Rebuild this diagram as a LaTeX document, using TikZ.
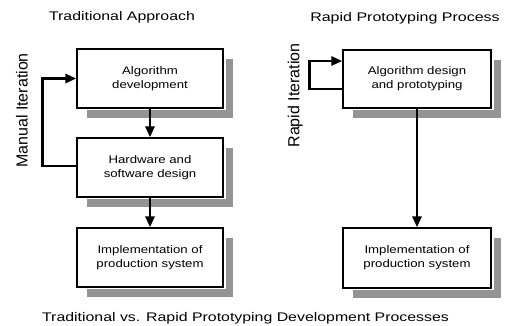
\documentclass[tikz,border=0pt]{standalone}
\usepackage{fontspec}
\setmainfont{Liberation Sans}
\usepackage{graphicx}
\usetikzlibrary{arrows.meta,calc}
\newcommand{\wid}[2]{\scalebox{#1}[1]{#2}}
\tikzset{
  procbox/.style={draw=black, line width=1.3pt, fill=white, minimum width=146pt, minimum height=59pt,
    inner sep=0pt, align=center, font=\fontsize{11}{14}\selectfont,
    preaction={draw=white, line width=5pt}},
  shadowfill/.style={fill=black!42},
  flow/.style={line width=2.8pt, -{Triangle[length=11pt,width=9pt]}},
  titletext/.style={font=\fontsize{12.5}{15}\selectfont, anchor=base, inner sep=0pt},
  sidetext/.style={font=\fontsize{16}{19}\selectfont, anchor=base, rotate=90, inner sep=0pt}
}
\begin{document}
\begin{tikzpicture}[x=1pt,y=-1pt]
\useasboundingbox (0,0) rectangle (507,326);
% shadows
\fill[shadowfill] (87,59) rectangle (233,118);
\fill[shadowfill] (87,148) rectangle (233,207);
\fill[shadowfill] (87,238) rectangle (233,297);
\fill[shadowfill] (353,60) rectangle (501,118);
\fill[shadowfill] (353,238) rectangle (501,298);
% boxes
\node[procbox] (lb1) at (150,78.5) {\wid{1.2}{Algorithm}\\\wid{1.2}{development}};
\node[procbox] (lb2) at (150,167.5) {\wid{1.2}{Hardware and}\\\wid{1.2}{software design}};
\node[procbox] (lb3) at (150,257.5) {\wid{1.2}{Implementation of}\\\wid{1.2}{production system}};
\node[procbox, minimum width=148pt, minimum height=58pt] (rb1) at (417,79) {\wid{1.2}{Algorithm design}\\\wid{1.2}{and prototyping}};
\node[procbox, minimum width=148pt, minimum height=60pt] (rb2) at (417,258) {\wid{1.2}{Implementation of}\\\wid{1.2}{production system}};
% connectors
\draw[flow] (lb1.south) -- (lb2.north);
\draw[flow] (lb2.south) -- (lb3.north);
\draw[flow] (rb1.south) -- (rb2.north);
\coordinate (ml1) at ($(lb2.west)+(-34,-1.5)$);
\coordinate (ml2) at ($(lb1.west)+(-34,0)$);
\draw[flow] ($(lb2.west)+(0,-1.5)$) -- (ml1) -- (ml2) -- (lb1.west);
\coordinate (rl1) at ($(rb1.west)+(-33,10)$);
\coordinate (rl2) at ($(rb1.west)+(-33,-18)$);
\draw[flow] ($(rb1.west)+(0,10)$) -- (rl1) -- (rl2) -- ($(rb1.west)+(0,-18)$);
% titles
\node[titletext] (t1) at (122,20.7) {\wid{1.27}{Traditional Approach}};
\node[titletext] (t2) at (405,21.3) {\wid{1.28}{Rapid Prototyping Process}};
\node[sidetext] (s1) at (27.5,110.5) {Manual Iteration};
\node[sidetext] (s2) at (299.3,95.5) {Rapid Iteration};
\node[titletext] (cap) at (245.5,321.7) {\wid{1.27}{Traditional vs. Rapid Prototyping Development Processes}};
\end{tikzpicture}
\end{document}
